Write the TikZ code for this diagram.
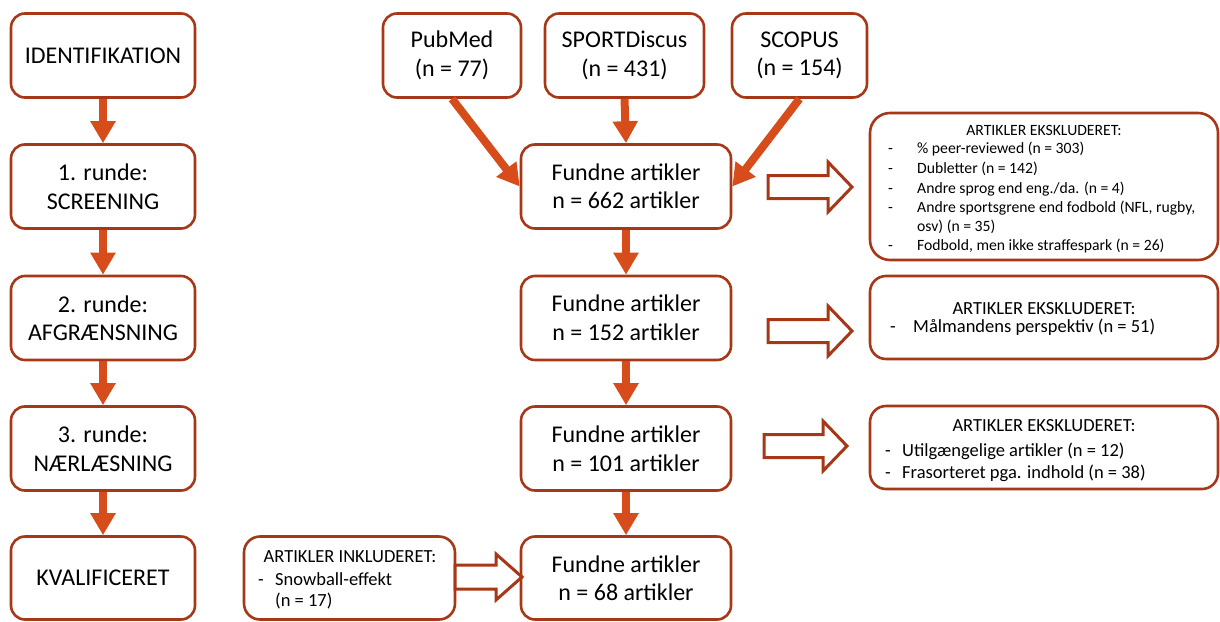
\documentclass[tikz,border=0pt]{standalone}
\usepackage{fontspec}
\setmainfont{Carlito}
\usetikzlibrary{arrows.meta}
\definecolor{boxc}{RGB}{166,56,24}
\definecolor{arrc}{RGB}{214,76,26}
\newcommand\hollowarr[6]{% left x, center y, length, shaft half, head half, head length
  \draw[hollow] ({#1},{#2-#4}) -- ({#1+#3-#6},{#2-#4}) -- ({#1+#3-#6},{#2-#5}) -- ({#1+#3},{#2})
    -- ({#1+#3-#6},{#2+#5}) -- ({#1+#3-#6},{#2+#4}) -- ({#1},{#2+#4}) -- cycle;}
\begin{document}
\begin{tikzpicture}[x=1pt,y=-1pt,
  box/.style={draw=boxc, line width=2.6pt, rounded corners=14pt, fill=white, inner sep=0pt,
    font=\fontsize{24}{28.5}\selectfont, align=center},
  infobox/.style={draw=boxc, line width=2.6pt, rounded corners=16pt, fill=white, inner sep=0pt},
  flow/.style={draw=arrc, line width=8pt, -{Triangle[width=24pt,length=22pt]}},
  hollow/.style={draw=boxc, line width=3pt, fill=white, line join=miter},
  smalltxt/.style={inner sep=0pt, font=\fontsize{15.7}{18}\selectfont},
  midtxt/.style={inner sep=0pt, font=\fontsize{18.5}{22}\selectfont}
]
\useasboundingbox (0,0) rectangle (1220,621);
% left column
\node[box, minimum width=184pt, minimum height=84pt] (id) at (103,55.5) {IDENTIFIKATION};
\node[box, minimum width=184pt, minimum height=84pt] (s1) at (103,186.5) {1. runde:\\SCREENING};
\node[box, minimum width=184pt, minimum height=84pt] (s2) at (103,318) {2. runde:\\AFGRÆNSNING};
\node[box, minimum width=184pt, minimum height=84pt] (s3) at (103,448.5) {3. runde:\\NÆRLÆSNING};
\node[box, minimum width=184pt, minimum height=83pt] (s4) at (103,578) {KVALIFICERET};
% sources
\node[box, minimum width=138pt, minimum height=84pt] (pm) at (452,55.5) {PubMed\\(n = 77)};
\node[box, minimum width=159pt, minimum height=84pt] (sd) at (624.5,55.5) {SPORTDiscus\\(n = 431)};
\node[box, minimum width=135pt, minimum height=84pt] (sc) at (799.5,55.5) {SCOPUS\\(n = 154)};
% centre column
\node[box, minimum width=210pt, minimum height=84pt] (f1) at (626,186.5) {Fundne artikler\\n = 662 artikler};
\node[box, minimum width=210pt, minimum height=84pt] (f2) at (626,318) {Fundne artikler\\n = 152 artikler};
\node[box, minimum width=210pt, minimum height=84pt] (f3) at (626,448.5) {Fundne artikler\\n = 101 artikler};
\node[box, minimum width=210pt, minimum height=83pt] (f4) at (626,578) {Fundne artikler\\n = 68 artikler};
% right boxes
\node[infobox, rounded corners=20pt, minimum width=348pt, minimum height=147pt] (e1) at (1044,186.5) {};
\node[infobox, minimum width=348pt, minimum height=83pt] (e2) at (1044,317.5) {};
\node[infobox, minimum width=348pt, minimum height=83pt] (e3) at (1044,447.5) {};
\node[infobox, minimum width=211pt, minimum height=83pt] (sn) at (349.5,578) {};
% texts of box e1
\node[smalltxt, anchor=base] (e1h) at (1044,135) {ARTIKLER EKSKLUDERET:};
\node[smalltxt, anchor=base west] (e1d1) at (888,153) {-};
\node[smalltxt, anchor=base west] (e1t1) at (917,153) {\% peer-reviewed (n = 303)};
\node[smalltxt, anchor=base west] (e1d2) at (888,173) {-};
\node[smalltxt, anchor=base west] (e1t2) at (917,173) {Dubletter (n = 142)};
\node[smalltxt, anchor=base west] (e1d3) at (888,193) {-};
\node[smalltxt, anchor=base west] (e1t3) at (917,193) {Andre sprog end eng./da. (n = 4)};
\node[smalltxt, anchor=base west] (e1d4) at (888,212) {-};
\node[smalltxt, anchor=base west] (e1t4) at (917,212) {Andre sportsgrene end fodbold (NFL, rugby,};
\node[smalltxt, anchor=base west] (e1t4b) at (917,231) {osv) (n = 35)};
\node[smalltxt, anchor=base west] (e1d5) at (888,250) {-};
\node[smalltxt, anchor=base west] (e1t5) at (917,250) {Fodbold, men ikke straffespark (n = 26)};
% texts of box e2
\node[midtxt, anchor=base] (e2h) at (1044,314) {ARTIKLER EKSKLUDERET:};
\node[midtxt, anchor=base west] (e2d1) at (890,332) {-};
\node[midtxt, anchor=base west] (e2t1) at (913,332) {Målmandens perspektiv (n = 51)};
% texts of box e3
\node[midtxt, anchor=base] (e3h) at (1044,431) {ARTIKLER EKSKLUDERET:};
\node[midtxt, anchor=base west] (e3d1) at (885,456) {-};
\node[midtxt, anchor=base west] (e3t1) at (902,456) {Utilgængelige artikler (n = 12)};
\node[midtxt, anchor=base west] (e3d2) at (885,478) {-};
\node[midtxt, anchor=base west] (e3t2) at (902,478) {Frasorteret pga. indhold (n = 38)};
% texts of snowball box
\node[midtxt, anchor=base] (snh) at (350,562) {ARTIKLER INKLUDERET:};
\node[midtxt, anchor=base west] (snd) at (258,585) {-};
\node[midtxt, anchor=base west] (snt) at (275,585) {Snowball-effekt};
\node[midtxt, anchor=base west] (snt2) at (275,606) {(n = 17)};
% flow arrows
\draw[flow] (id.south) -- (s1.north);
\draw[flow] (s1.south) -- (s2.north);
\draw[flow] (s2.south) -- (s3.north);
\draw[flow] (s3.south) -- (s4.north);
\draw[flow] (sd.south) -- (f1.north);
\draw[flow] (pm.south) -- (f1.west);
\draw[flow] (sc.south) -- (f1.east);
\draw[flow] (f1.south) -- (f2.north);
\draw[flow] (f2.south) -- (f3.north);
\draw[flow] (f3.south) -- (f4.north);
% hollow arrows
\hollowarr{768}{187}{84}{11.5}{25}{24}
\hollowarr{768}{331}{84}{11.5}{25}{24}
\hollowarr{764}{446}{83}{11.5}{25}{24}
\hollowarr{455}{577}{67}{12}{23}{26}
\end{tikzpicture}
\end{document}
